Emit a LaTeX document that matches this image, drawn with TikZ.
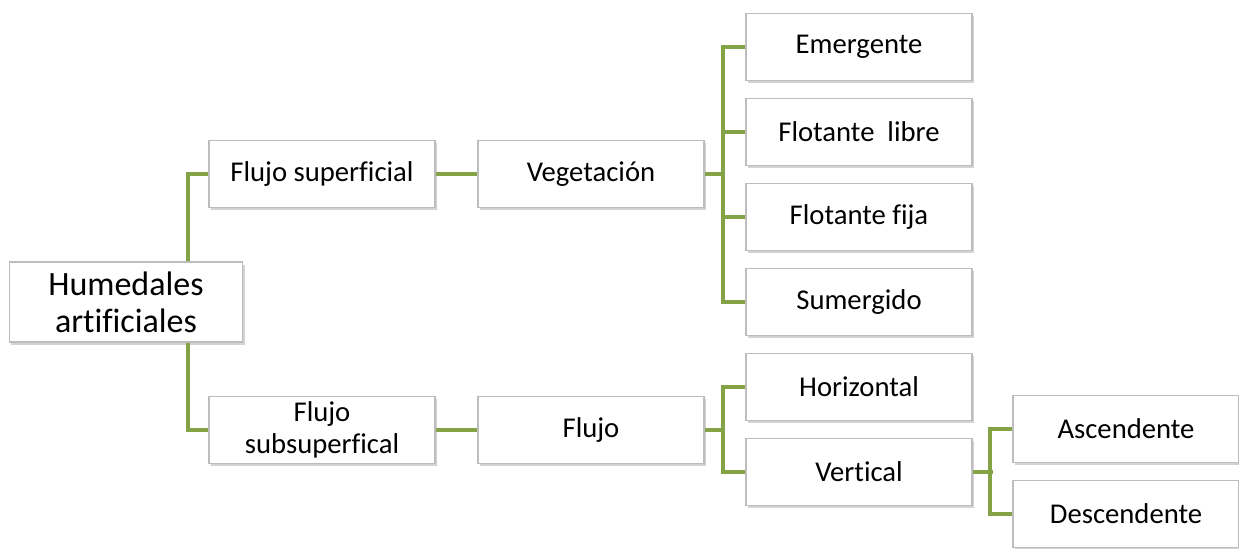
\documentclass[tikz,border=0pt]{standalone}
\usepackage{fontspec}
\setmainfont[Ligatures=NoCommon]{Carlito}
\usepackage{xcolor}
\usetikzlibrary{shadows}

\definecolor{ramagreen}{HTML}{84A246}
\definecolor{boxgray}{HTML}{BDBDBD}

\tikzset{
  caja/.style={draw=boxgray, fill=white, line width=0.8pt,
    minimum width=169.5pt, minimum height=50pt, align=center,
    inner sep=1pt,
    font=\fontsize{21.5}{24}\selectfont,
    drop shadow={opacity=0.35, shadow xshift=1.5pt, shadow yshift=-2pt}},
  raiz/.style={caja, minimum width=175pt, minimum height=60pt,
    font=\fontsize{25.5}{27.75}\selectfont},
  rama/.style={draw=ramagreen, line width=3pt}
}

\begin{document}
\begin{tikzpicture}[x=0.75pt,y=-0.75pt]

	\useasboundingbox (0,0) rectangle (1239,549);

	% raiz
	\node [raiz] (hum) at (126,302) {Humedales\\artificiales};

	% primer nivel
	\node [caja] (fsup) at (322,174) {Flujo superficial};
	\node [caja] (fsub) at (322,430) {Flujo\\subsuperfical};

	% segundo nivel
	\node [caja] (veg) at (591,174) {Vegetación};
	\node [caja] (flujo) at (591,430) {Flujo};

	% tipos de vegetacion
	\node [caja] (emer) at (859,47) {Emergente};
	\node [caja] (flib) at (859,132) {Flotante~~libre};
	\node [caja] (ffija) at (859,217) {Flotante fija};
	\node [caja] (sum) at (859,302) {Sumergido};

	% tipos de flujo
	\node [caja] (hor) at (859,387) {Horizontal};
	\node [caja] (ver) at (859,472) {Vertical};
	\node [caja] (asc) at (1126,429) {Ascendente};
	\node [caja] (desc) at (1126,514) {Descendente};

	\draw [rama] ([xshift=46.5pt]hum.north) |- (fsup.west);
	\draw [rama] ([xshift=46.5pt]hum.south) |- (fsub.west);
	\draw [rama] (fsup) -- (veg);
	\draw [rama] (fsub) -- (flujo);

	\draw [rama] (veg.east) -- ++(19,0);
	\draw [rama] (emer.west) -- ++(-22,0) |- (sum.west);
	\foreach \n in {flib, ffija} {
		\draw [rama] (\n.west) -- ++(-22,0);
	}

	\draw [rama] (flujo.east) -- ++(19,0);
	\draw [rama] (hor.west) -- ++(-22,0) |- (ver.west);

	\draw [rama] (ver.east) -- ++(20,0);
	\draw [rama] (asc.west) -- ++(-22,0) |- (desc.west);
\end{tikzpicture}
\end{document}
